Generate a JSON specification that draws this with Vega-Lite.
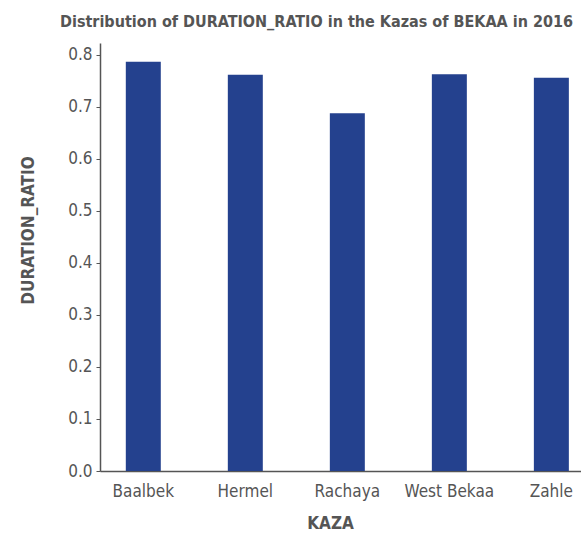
{
  "$schema": "https://vega.github.io/schema/vega-lite/v6.json",
  "width": 481,
  "height": 428,
  "autosize": "none",
  "padding": {"left": 100, "top": 43, "right": 0, "bottom": 62},
  "background": "white",
  "title": {
    "text": "Distribution of DURATION_RATIO in the Kazas of BEKAA in 2016",
    "anchor": "middle",
    "frame": "group",
    "dx": -24,
    "offset": 13,
    "font": "DejaVu Sans Condensed",
    "fontSize": 16,
    "fontWeight": "bold",
    "color": "#555555"
  },
  "data": {
    "values": [
      {"KAZA": "Baalbek", "DURATION_RATIO": 0.787},
      {"KAZA": "Hermel", "DURATION_RATIO": 0.762},
      {"KAZA": "Rachaya", "DURATION_RATIO": 0.688},
      {"KAZA": "West Bekaa", "DURATION_RATIO": 0.763},
      {"KAZA": "Zahle", "DURATION_RATIO": 0.756}
    ]
  },
  "mark": {"type": "bar", "color": "#24418E"},
  "encoding": {
    "x": {
      "field": "KAZA",
      "type": "nominal",
      "sort": null,
      "scale": {"paddingInner": 0.657, "paddingOuter": 0.186, "align": 0.68},
      "axis": {
        "labelAngle": 0,
        "ticks": false,
        "labelPadding": 12,
        "titleX": 230,
        "titleY": 52,
        "titleBaseline": "middle"
      }
    },
    "y": {
      "field": "DURATION_RATIO",
      "type": "quantitative",
      "scale": {"domain": [0, 0.823], "nice": false},
      "axis": {
        "values": [0, 0.1, 0.2, 0.3, 0.4, 0.5, 0.6, 0.7, 0.8],
        "format": ".1f",
        "grid": false,
        "tickSize": 4,
        "labelPadding": 4,
        "titleX": -72,
        "titleY": 187,
        "titleBaseline": "middle"
      }
    }
  },
  "config": {
    "view": {"stroke": null},
    "axis": {
      "domainColor": "#555555",
      "domainWidth": 1.5,
      "tickColor": "#555555",
      "labelColor": "#555555",
      "titleColor": "#555555",
      "labelFont": "DejaVu Sans Condensed",
      "titleFont": "DejaVu Sans Condensed",
      "labelFontSize": 17,
      "titleFontSize": 17,
      "titleFontWeight": "bold"
    }
  }
}
